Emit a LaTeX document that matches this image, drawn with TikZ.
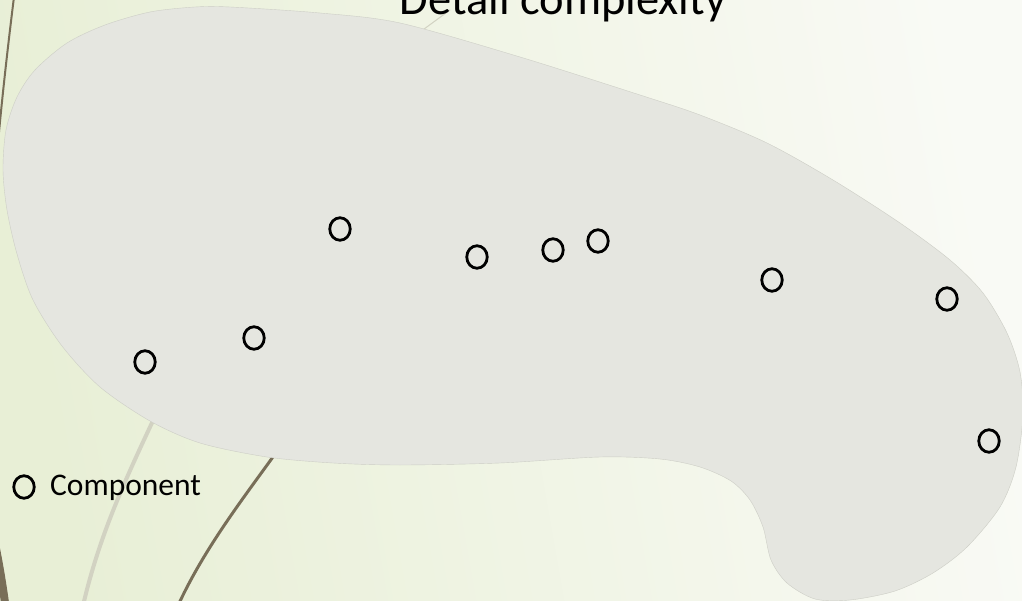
\documentclass[tikz,border=0pt]{standalone}
\usepackage{fontspec}
\setmainfont{Carlito}
\usetikzlibrary{shapes.geometric}
\definecolor{bgleft}{RGB}{232,239,214}
\definecolor{bgright}{RGB}{249,250,245}
\definecolor{blobfill}{RGB}{229,230,224}
\definecolor{blobedge}{RGB}{205,206,198}
\definecolor{olive}{RGB}{120,110,88}
\definecolor{paleline}{RGB}{210,210,194}
\tikzset{
  comp/.style={ellipse, draw=black, line width=2.8pt, inner sep=0pt, minimum width=20.5pt, minimum height=22.5pt},
  wisp/.style={line cap=round},
}
\begin{document}
\begin{tikzpicture}[x=1pt,y=-1pt]
\useasboundingbox (0,0) rectangle (1022,601);
\begin{scope}
\clip (0,0) rectangle (1022,601);
\shade[left color=bgleft, right color=bgright, shading angle=100] (0,0) rectangle (1022,601);
% background wisps
\draw[wisp, olive, line width=2pt] (14,-3) .. controls (8,45) and (3,90) .. (-1,132);
\draw[wisp, paleline, line width=1pt] (420,32) -- (450,10);
\draw[wisp, paleline, line width=4pt] (165,395) .. controls (130,470) and (100,530) .. (82,610);
\draw[wisp, olive, line width=3pt] (285,440) .. controls (250,490) and (205,545) .. (176,610);
\draw[olive, line width=8pt] (-12,512) .. controls (-3,550) and (2,580) .. (6,610);
% the blob
\draw[fill=blobfill, draw=blobedge, line width=0.4pt] plot[smooth cycle, tension=0.5] coordinates {
 (230,7) (320,13) (400,23) (520,57) (640,95) (700,115) (767,143) (833,180) (900,223)
 (950,260) (983,293) (1007,333) (1020,372) (1023,415) (1016,467) (1000,507) (967,547)
 (933,573) (895,591) (850,600) (815,599) (787,583) (771,560) (763,527) (750,500)
 (731,481) (700,467) (660,459) (600,457) (500,463) (400,465) (333,463) (267,457)
 (200,443) (150,421) (100,387) (62,346) (33,300) (17,254) (7,210) (3,170) (6,130)
 (17,97) (35,70) (67,43) (105,25) (150,12) (195,7)};
\end{scope}
% title
\node[anchor=base, font=\fontsize{46.5pt}{50pt}\selectfont, inner sep=0pt] (title) at (563,15) {Detail complexity};
% components
\node[comp] (c1) at (145,362) {};
\node[comp] (c2) at (254,338) {};
\node[comp] (c3) at (340,229) {};
\node[comp] (c4) at (477,257) {};
\node[comp] (c5) at (553,250) {};
\node[comp] (c6) at (598,241) {};
\node[comp] (c7) at (772,280) {};
\node[comp] (c8) at (947,299) {};
\node[comp] (c9) at (989,441) {};
% legend
\node[comp] (lc) at (24,487) {};
\node[anchor=base west, font=\fontsize{31.5pt}{34pt}\selectfont, inner sep=0pt] (lt) at (50,495) {Component};
\end{tikzpicture}
\end{document}
